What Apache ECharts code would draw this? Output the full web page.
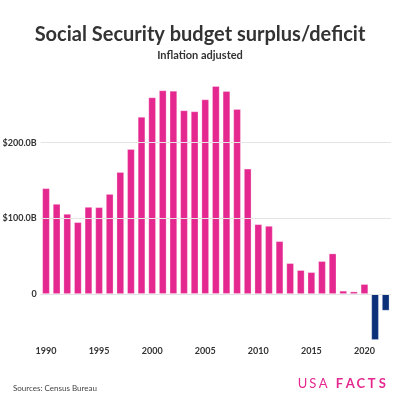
<!DOCTYPE html>
<html>
<head>
<meta charset="utf-8">
<script src="https://cdn.jsdelivr.net/npm/echarts@6/dist/echarts.min.js"></script>
<style>html,body{margin:0;padding:0;background:#fff}#c{width:400px;height:400px}</style>
</head>
<body>
<div id="c"></div>
<script>
const years = ['1990','1991','1992','1993','1994','1995','1996','1997','1998','1999','2000','2001','2002','2003','2004','2005','2006','2007','2008','2009','2010','2011','2012','2013','2014','2015','2016','2017','2018','2019','2020','2021','2022'];
const surplus = [139.6,118.9,105.7,94.7,114.9,114.5,132,161,191.5,234,259.8,269,268.6,242.6,241.3,257.1,274.8,268.2,244.4,165.5,92,89.8,69.6,40.5,31.3,28.6,43.2,53.3,4,3,12.8,-60.8,-22];
const yTicks = [0, 100, 200];
const tickLabels = ['0', '$100.0B', '$200.0B'];

const PINK = '#e5288f', NAVY = '#0c2f7a';
const chart = echarts.init(document.getElementById('c'), null, {renderer: 'canvas'});
const FONT = 'Lato';

function logoLetters(word, startCx, step, weight) {
  return word.split('').map((ch, i) => ({
    type: 'text', x: startCx + i * step, y: 377,
    style: {text: ch, textAlign: 'center', fontFamily: FONT, fontWeight: weight, fontSize: 13, fill: PINK}
  }));
}

chart.setOption({
  animation: false,
  backgroundColor: '#fff',
  title: [
    {text: 'Social Security budget surplus/deficit', left: 'center', top: 20,
     textStyle: {fontFamily: FONT, fontWeight: 'bold', fontSize: 20, color: '#333'}},
    {text: 'Inflation adjusted', left: 'center', top: 45,
     textStyle: {fontFamily: FONT, fontWeight: 'bold', fontSize: 11, color: '#333'}}
  ],
  grid: {left: 40.7, right: 9, top: 86, bottom: 60, containLabel: false},
  xAxis: {
    type: 'category', data: years, position: 'bottom',
    axisLine: {show: false, onZero: false}, axisTick: {show: false},
    axisLabel: {interval: (i) => i % 5 === 0, fontFamily: FONT, fontWeight: 'bold', fontSize: 9, color: '#333', margin: 7}
  },
  yAxis: {
    type: 'value', min: -61, max: 275,
    axisLine: {show: false}, axisTick: {show: false}, axisLabel: {show: false}, splitLine: {show: false}
  },
  series: [
    {
      type: 'line', data: years.map(() => null), z: 1, silent: true, symbol: 'none',
      markLine: {
        silent: true, symbol: 'none',
        lineStyle: {color: '#e4e4e4', type: 'solid', width: 1},
        label: {position: 'start', distance: 4, fontFamily: FONT, fontWeight: 'bold', fontSize: 9, color: '#333',
                formatter: (p) => tickLabels[yTicks.indexOf(p.value)]},
        data: yTicks.map(v => ({yAxis: v}))
      }
    },
    {
      type: 'bar', z: 2, barCategoryGap: '31%',
      data: surplus.map(v => ({value: v, itemStyle: {color: v < 0 ? NAVY : PINK}})),
      itemStyle: {borderColor: 'rgba(255,255,255,0.45)', borderWidth: 0.6}
    }
  ],
  graphic: [
    {type: 'text', left: 13, top: 384, style: {text: 'Sources: Census Bureau', fontFamily: FONT, fontSize: 8, fill: '#444'}}
  ].concat(logoLetters('USA', 302.5, 10.3, 400), logoLetters('FACTS', 339.5, 10.7, 'bold'))
});
</script>
</body>
</html>
